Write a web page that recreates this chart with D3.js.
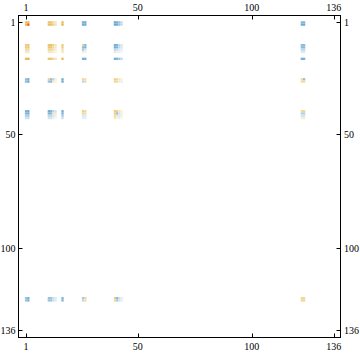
<!DOCTYPE html>
<html><head><meta charset="utf-8">
<script src="https://cdn.jsdelivr.net/npm/d3@7"></script>
<style>html,body{margin:0;padding:0;background:#fff;}svg{display:block;}</style>
</head><body>
<script>
const n = 136;
const indices = [1,2,11,12,13,14,17,26,27,40,41,42,43,122,123];
const tickValues = [1,50,100,136];
// rows of the matrix restricted to the nonzero indices (all other entries are 0)
const values = [
 [ 0.55, 0.6,  0.5, 0.5, 0.35, 0.2,  0.6,  -0.65,-0.7,  -0.7,-0.65,-0.45,-0.25, -0.55,-0.55],
 [ 0.6,  1.0,  0.55,0.55,0.4, 0.25,  0.65, -0.7,-0.7,   -0.75,-0.7,-0.45,-0.25, -0.7,-0.7],
 [ 0.45, 0.5,  0.5, 0.55,0.4, 0.2,   0.45,  0.4,-0.55,  -0.65,-0.6,-0.3,-0.15,  -0.5,-0.5],
 [ 0.45, 0.5,  0.5, 0.5, 0.35,0.2,   0.45, -0.5,-0.65,  -0.7,-0.6,-0.3,-0.15,   -0.55,-0.55],
 [ 0.3,  0.35, 0.35,0.35,0.3, 0.15,  0.3,  -0.4,-0.2,   -0.3,-0.25,-0.15,-0.1,  -0.3,-0.3],
 [ 0.2,  0.2,  0.2, 0.2, 0.15,0.1,   0.2,   0.15,0.1,   -0.15,0.1,-0.1,-0.05,   -0.15,-0.15],
 [ 0.6,  0.7,  0.5, 0.5, 0.35,0.25,  0.6,  -0.65,-0.7,  -0.7,-0.65,-0.45,-0.25, -0.65,-0.65],
 [-0.5, -0.7,  0.4,-0.5,-0.35,0.15, -0.7,   0.35,0.3,    0.4,0.35,0.2,0.1,       0.3,-0.5],
 [-0.5, -0.7, -0.45,-0.5,0.2, 0.1,  -0.7,  -0.3,0.3,     0.35,0.3,0.15,-0.1,     0.3,0.3],
 [-0.65,-0.75,-0.7,-0.6,-0.35,-0.2, -0.7,   0.4,0.35,    0.45,0.4,0.2,0.1,       0.35,0.35],
 [-0.6, -0.7, -0.6,-0.55,0.25,-0.15,-0.65,  0.35,0.3,    0.4,-0.5,-0.2,0.1,     -0.35,-0.35],
 [-0.35,-0.4, -0.3,-0.3,0.25,-0.1,  -0.4,  -0.15,-0.15,  0.3,0.2,-0.15,0.1,     -0.2,-0.2],
 [-0.2, -0.25,-0.2,-0.2,-0.1,-0.05, -0.25, -0.1,-0.1,    0.2,0.1,-0.1,0.05,      0.15,0.15],
 [-0.45,-0.65,-0.45,-0.45,-0.25,-0.15,-0.6,-0.4,0.35,    0.4,-0.55,-0.25,-0.1,   0.35,0.35],
 [-0.45,-0.65,-0.45,-0.45,-0.25,-0.15,-0.6,-0.3,0.3,     0.35,-0.4,-0.2,-0.1,    0.35,0.35]
];

const W = 360, H = 353;
const svg = d3.select("body").append("svg").attr("width", W).attr("height", H);

const x = d3.scaleLinear().domain([0.5, n + 0.5]).range([24.9, 334.9]);
const y = d3.scaleLinear().domain([0.5, n + 0.5]).range([21.2, 331.2]);

const color = d3.scaleLinear()
  .domain([-1, -0.75, -0.5, -0.3, -0.1, 0, 0.1, 0.3, 0.5, 0.75, 1])
  .range(["#4a90c2","#6aa6cf","#8ebcdc","#bcd8ec","#e4f0f8","#ffffff","#faf2dc","#f1dca4","#ebc66e","#eea53a","#f05a14"])
  .clamp(true);

const cells = [];
values.forEach((row, i) => row.forEach((v, j) => cells.push({r: indices[i], c: indices[j], v})));

svg.append("g").selectAll("rect").data(cells).join("rect")
  .attr("x", d => x(d.c - 0.5))
  .attr("y", d => y(d.r - 0.5))
  .attr("width", d => x(d.c + 0.5) - x(d.c - 0.5))
  .attr("height", d => y(d.r + 0.5) - y(d.r - 0.5))
  .attr("fill", d => color(d.v));

// frame
const fx0 = 18.5, fx1 = 340.5, fy0 = 15.5, fy1 = 337.5;
svg.append("rect").attr("x", fx0).attr("y", fy0).attr("width", fx1 - fx0).attr("height", fy1 - fy0)
  .attr("fill", "none").attr("stroke", "#000").attr("stroke-width", 1);

const tl = 4;
const font = "'Liberation Serif', 'DejaVu Serif', serif";
const g = svg.append("g").attr("stroke", "#000").attr("stroke-width", 1);
tickValues.forEach(t => {
  const px = Math.round(x(t)) + 0.5, py = Math.round(y(t)) + 0.5;
  g.append("line").attr("x1", px).attr("x2", px).attr("y1", fy0).attr("y2", fy0 + tl);
  g.append("line").attr("x1", px).attr("x2", px).attr("y1", fy1).attr("y2", fy1 - tl);
  g.append("line").attr("y1", py).attr("y2", py).attr("x1", fx0).attr("x2", fx0 + tl);
  g.append("line").attr("y1", py).attr("y2", py).attr("x1", fx1).attr("x2", fx1 - tl);
});
const lab = svg.append("g").attr("font-family", font).attr("font-size", "10px").attr("fill", "#000");
tickValues.forEach(t => {
  lab.append("text").attr("x", x(t)).attr("y", 11).attr("text-anchor", "middle").text(t);
  lab.append("text").attr("x", x(t)).attr("y", 350).attr("text-anchor", "middle").text(t);
  lab.append("text").attr("x", 15.5).attr("y", y(t) + 3.5).attr("text-anchor", "end").text(t);
  lab.append("text").attr("x", 344).attr("y", y(t) + 3.5).attr("text-anchor", "start").text(t);
});
</script>
</body></html>
